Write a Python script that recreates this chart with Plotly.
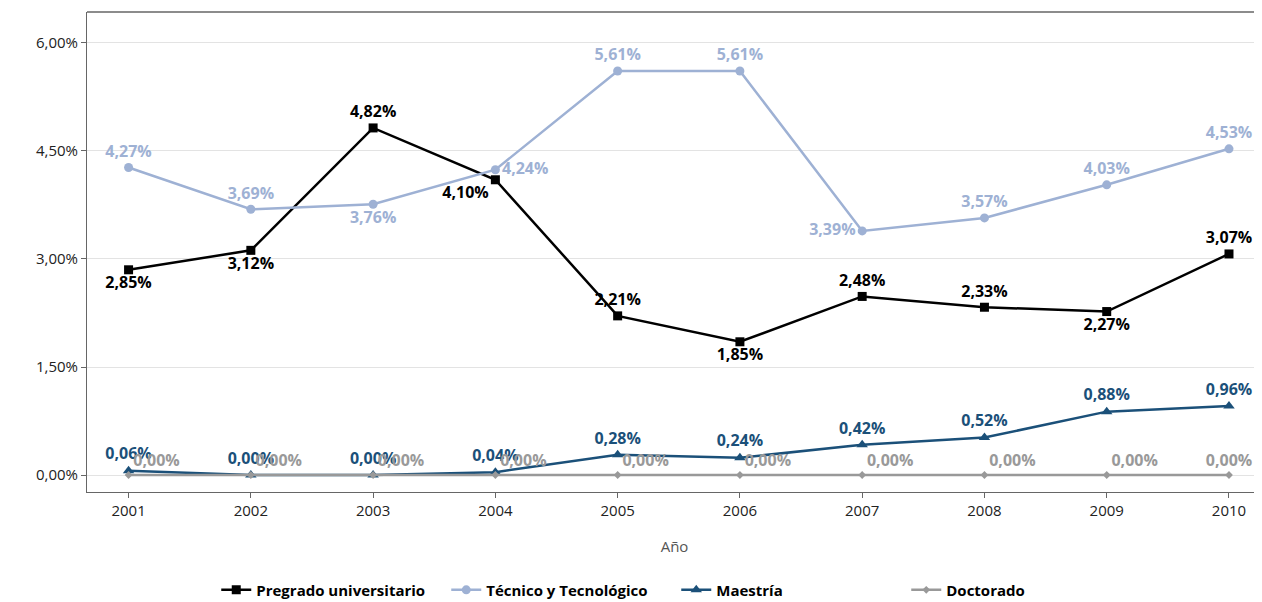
import plotly.graph_objects as go

years = [2001, 2002, 2003, 2004, 2005, 2006, 2007, 2008, 2009, 2010]
pregrado = [2.85, 3.12, 4.82, 4.10, 2.21, 1.85, 2.48, 2.33, 2.27, 3.07]
tecnico = [4.27, 3.69, 3.76, 4.24, 5.61, 5.61, 3.39, 3.57, 4.03, 4.53]
maestria = [0.06, 0.00, 0.00, 0.04, 0.28, 0.24, 0.42, 0.52, 0.88, 0.96]
doctorado = [0.00] * 10
tick_vals = [0, 1.5, 3, 4.5, 6]

def pct(v):
    return f"{v:.2f}%".replace(".", ",")

series = [
    ("Pregrado universitario", pregrado, "#000000", "square", 9,
     ["bottom center", "bottom center", "top center", "bottom left", "top center",
      "bottom center", "top center", "top center", "bottom center", "top center"]),
    ("Técnico y Tecnológico", tecnico, "#9eb1d4", "circle", 9,
     ["top center", "top center", "bottom center", "middle right", "top center",
      "top center", "middle left", "top center", "top center", "top center"]),
    ("Maestría", maestria, "#1b5079", "triangle-up", 10, ["top center"] * 10),
    ("Doctorado", doctorado, "#999999", "diamond", 6, ["top right"] * 9 + ["top center"]),
]

fig = go.Figure()
for name, vals, color, sym, size, pos in series:
    fig.add_trace(go.Scatter(
        x=years, y=vals, name=name, mode="lines+markers+text",
        line=dict(color=color, width=2.5),
        marker=dict(symbol=sym, size=size, color=color),
        text=[pct(v) for v in vals], textposition=pos,
        textfont=dict(color=color, size=16, family="Open Sans", weight="bold"),
        cliponaxis=False,
    ))

fig.update_layout(
    width=1254, height=594, plot_bgcolor="white", paper_bgcolor="white",
    margin=dict(l=79, r=0, t=4, b=110, autoexpand=False),
    font=dict(family="Open Sans", size=15, color="#222"),
    xaxis=dict(range=[2000.66, 2010.27], tickvals=years,
               title=dict(text="Año", standoff=22, font=dict(color="#555", size=15)),
               showline=True, linecolor="#666", mirror=False, ticks="outside",
               tickcolor="#666", showgrid=False, zeroline=False, automargin=False),
    yaxis=dict(range=[-0.236, 6.43], tickvals=tick_vals, ticktext=[pct(v) for v in tick_vals],
               showline=True, linecolor="#666", ticks="outside", tickcolor="#666",
               gridcolor="#e3e3e3", zeroline=False, automargin=False),
    legend=dict(orientation="h", x=0.11, xanchor="left", y=-0.17, yanchor="top",
                font=dict(size=15, weight="bold", color="#000"), entrywidth=185,
                tracegroupgap=0, itemwidth=30),
    shapes=[dict(type="line", xref="paper", yref="paper", x0=0, x1=1, y0=1, y1=1,
                 line=dict(color="#666", width=1.5))],
)
fig.write_html("out.html")
